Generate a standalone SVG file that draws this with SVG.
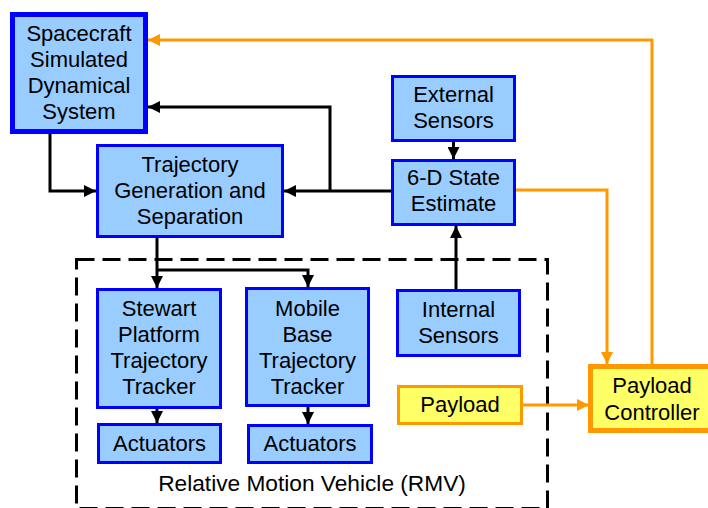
<svg xmlns="http://www.w3.org/2000/svg" width="708" height="508" viewBox="0 0 708 508">
<defs>
<marker id="ab" viewBox="0 0 12 12" refX="12" refY="6" markerWidth="12" markerHeight="12" markerUnits="userSpaceOnUse" orient="auto"><path d="M0,0 L12,6 L0,12 z" fill="#000"/></marker>
<marker id="ao" viewBox="0 0 12 12" refX="12" refY="6" markerWidth="12" markerHeight="12" markerUnits="userSpaceOnUse" orient="auto"><path d="M0,0 L12,6 L0,12 z" fill="#FF9900"/></marker>
</defs>
<style>
text{font-family:"Liberation Sans",Arial,sans-serif;font-size:22px;fill:#000;text-anchor:middle}
.b{fill:#99CCFF;stroke:#0000FF;stroke-width:3}
.bt{fill:#99CCFF;stroke:#0000FF;stroke-width:5}
.y{fill:#FFFF66;stroke:#FF9900;stroke-width:3}
.yt{fill:#FFFF66;stroke:#FF9900;stroke-width:5}
.k{fill:none;stroke:#000;stroke-width:3;marker-end:url(#ab)}
.o{fill:none;stroke:#FF9900;stroke-width:3;marker-end:url(#ao)}
</style>
<rect width="708" height="508" fill="#fff"/>
<g id="rmv">
<rect x="76.5" y="259.5" width="471" height="249" fill="none" stroke="#000" stroke-width="3" stroke-dasharray="18 8"/>
<text x="312" y="491" style="font-size:22.7px">Relative Motion Vehicle (RMV)</text>
</g>
<g id="connectors">
<path class="k" d="M50 134 V191 H96"/>
<path class="k" d="M391 191 H284"/>
<path class="k" d="M330 191 V107 H148"/>
<path class="k" d="M453.5 142 V159"/>
<path class="k" d="M456 289 V226"/>
<path class="k" d="M157 238 V288"/>
<path class="k" d="M157 270 H308 V287"/>
<path class="k" d="M157 409 V423"/>
<path class="k" d="M308 407 V424"/>
<path class="o" d="M516 190 H607 V364"/>
<path class="o" d="M652 364 V40 H148"/>
<path class="o" d="M523 405 H589"/>
</g>
<g id="spacecraft">
<rect class="bt" x="12.5" y="14.5" width="133" height="117"/>
<text x="79" y="41">Spacecraft</text>
<text x="79" y="67">Simulated</text>
<text x="79" y="93">Dynamical</text>
<text x="79" y="119">System</text>
</g>
<g id="trajectory">
<rect class="b" x="97.5" y="145.5" width="185" height="91"/>
<text x="190" y="172">Trajectory</text>
<text x="190" y="198">Generation and</text>
<text x="190" y="224">Separation</text>
</g>
<g id="external">
<rect class="b" x="392.5" y="76.5" width="122" height="64"/>
<text x="453.5" y="102">External</text>
<text x="453.5" y="128">Sensors</text>
</g>
<g id="state">
<rect class="b" x="392.5" y="160.5" width="122" height="64"/>
<text x="453.5" y="185">6-D State</text>
<text x="453.5" y="211">Estimate</text>
</g>
<g id="internal">
<rect class="b" x="397.5" y="290.5" width="122" height="65"/>
<text x="458.5" y="317">Internal</text>
<text x="458.5" y="343">Sensors</text>
</g>
<g id="stewart">
<rect class="b" x="97.5" y="289.5" width="123" height="118"/>
<text x="159" y="316">Stewart</text>
<text x="159" y="342">Platform</text>
<text x="159" y="368">Trajectory</text>
<text x="159" y="394">Tracker</text>
</g>
<g id="mobile">
<rect class="b" x="246.5" y="288.5" width="122" height="117"/>
<text x="307.5" y="316">Mobile</text>
<text x="307.5" y="342">Base</text>
<text x="307.5" y="368">Trajectory</text>
<text x="307.5" y="394">Tracker</text>
</g>
<g id="actuators1">
<rect class="b" x="98.5" y="424.5" width="122" height="38"/>
<text x="159.5" y="451">Actuators</text>
</g>
<g id="actuators2">
<rect class="b" x="248.5" y="425.5" width="123" height="37"/>
<text x="310" y="451">Actuators</text>
</g>
<g id="payload">
<rect class="y" x="398.5" y="386.5" width="123" height="37"/>
<text x="460" y="412">Payload</text>
</g>
<g id="payloadController">
<rect class="yt" x="590.5" y="366.5" width="124" height="64"/>
<text x="652" y="393">Payload</text>
<text x="652" y="420">Controller</text>
</g>
</svg>
